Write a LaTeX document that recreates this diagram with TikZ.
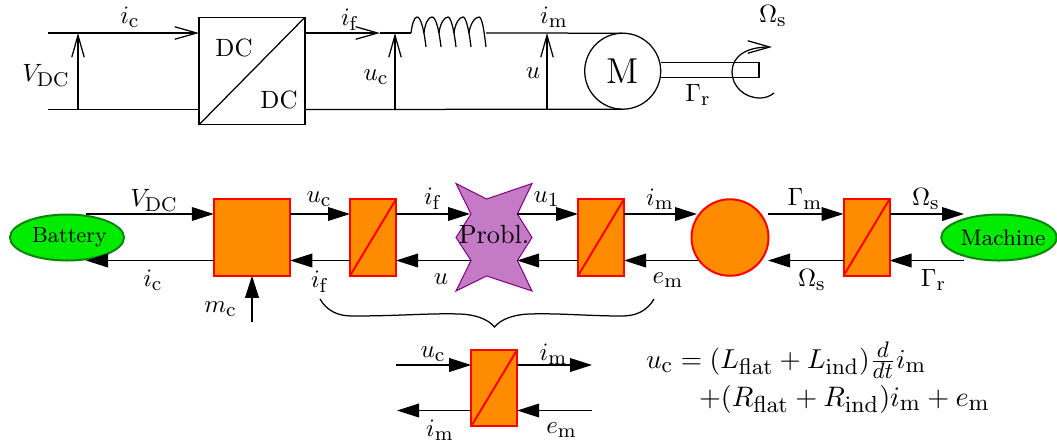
\documentclass[tikz,border=0pt]{standalone}
\usepackage{amsmath}
\usetikzlibrary{arrows.meta,shapes.geometric}
\DeclareMathSizes{10}{10}{8}{6}
\DeclareMathSizes{11}{11}{8.8}{6.6}
\definecolor{blockfill}{RGB}{255,140,0}
\definecolor{starfill}{RGB}{196,122,196}
\definecolor{sourcefill}{RGB}{0,235,0}
\definecolor{sourceline}{RGB}{10,135,10}
\tikzset{
  wire/.style={black, line width=0.5pt},
  openarrow/.style={wire, -{Straight Barb[length=8.8pt,width=5pt]}},
  sigarrow/.style={wire, -{Triangle[length=8.8pt,width=5.5pt]}},
  lbl/.style={inner sep=0pt, outer sep=0pt},
  plainbox/.style={draw, line width=0.5pt, inner sep=0pt, outer sep=0pt, minimum width=42.4pt, minimum height=43pt},
  redblock/.style={draw=red, fill=blockfill, line width=0.8pt, inner sep=0pt, outer sep=0pt},
  convbox/.style={redblock, minimum width=18.4pt, minimum height=30.6pt},
  sourcebox/.style={ellipse, draw=sourceline, fill=sourcefill, line width=0.8pt, inner sep=0pt, outer sep=0pt, minimum height=18.4pt},
}
\begin{document}
\begin{tikzpicture}[x=0.4pt,y=-0.4pt]
\useasboundingbox (0,0) rectangle (1057,441);
% upper circuit
\node[plainbox] (dcbox) at (252,71) {};
\draw[wire] (dcbox.south west) -- (dcbox.north east);
\node[lbl] (dcin) at (234,48) {DC};
\node[lbl] (dcout) at (279,100) {DC};
\node[draw, circle, line width=0.5pt, inner sep=0pt, outer sep=0pt, minimum size=30.4pt, font=\Large] (motor) at (622.7,71.2) {M};
\coordinate (inT) at (48,33);
\coordinate (inB) at (48,109.5);
\coordinate (voltT) at (78,33);
\coordinate (voltB) at (78,109.5);
\coordinate (coilIn) at (380,33);
\coordinate (coilA) at (411,33);
\coordinate (coilZ) at (486,33);
\coordinate (ucT) at (395,33);
\coordinate (ucB) at (395,109.5);
\coordinate (uT) at (547,33);
\coordinate (uB) at (547,109.5);
\draw[openarrow] (inT) -- (dcbox.west |- inT);
\draw[wire] (inB) -- (dcbox.west |- inB);
\draw[openarrow] (voltB) -- (voltT);
\draw[openarrow] (dcbox.east |- coilIn) -- (coilIn);
\draw[wire] (coilIn) -- (coilA);
\draw[wire] (dcbox.east |- inB) -- (motor.south);
\draw[wire] (coilZ) -- (motor.north);
\draw[openarrow] (ucB) -- (ucT);
\draw[openarrow] (uB) -- (uT);
% coil
\draw[wire] (coilA) .. controls (412,25) and (414,17) .. (417,17) .. controls (421,17) and (424,30) .. (426,47);
\draw[wire] (424,33) .. controls (425,24) and (428,17) .. (432,17) .. controls (436,17) and (439,30) .. (441,47);
\draw[wire] (439,33) .. controls (440,24) and (444,17) .. (448,17) .. controls (451,17) and (454,30) .. (456,47);
\draw[wire] (454,33) .. controls (455,24) and (459,17) .. (463,17) .. controls (466,17) and (469,30) .. (471,47);
\draw[wire] (469,33) .. controls (470,24) and (475,17) .. (479,17) .. controls (482,17) and (484,30) .. (486,47);
% shaft and rotation
\draw[wire] (motor.east |- 0,62.7) -- (759,62.7) -- (759,77.7) -- (motor.east |- 0,77.7);
\draw[openarrow] (774,93) .. controls (769,97) and (764,98) .. (760,98) .. controls (744,98) and (732,86) .. (732,72) .. controls (732,57) and (745,47) .. (772,47);
\node[lbl] (lbVdc) at (46,75) {$V_{\mathrm{DC}}$};
\node[lbl] (lbIc) at (130,17) {$i_{\mathrm{c}}$};
\node[lbl] (lbIf) at (350,20) {$i_{\mathrm{f}}$};
\node[lbl] (lbUc) at (376,77) {$u_{\mathrm{c}}$};
\node[lbl] (lbU) at (533,73) {$u$};
\node[lbl] (lbIm) at (554,17) {$i_{\mathrm{m}}$};
\node[lbl] (lbGr) at (698,95) {$\Gamma_{\mathrm{r}}$};
\node[lbl] (lbOs) at (773,16) {$\Omega_{\mathrm{s}}$};
% energetic representation
\coordinate (rowT) at (0,214);
\coordinate (rowB) at (0,260.5);
\node[sourcebox, minimum width=45.6pt] (battery) at (67,237.5) {};
\node[lbl, font=\fontsize{8.7}{10}\selectfont] (batteryText) at (69.5,237.5) {Battery};
\node[redblock, minimum width=30.6pt, minimum height=30.6pt] (chop) at (252,237.5) {};
\node[convbox] (convA) at (373,237.5) {};
\draw[red, line width=0.8pt] (convA.south west) -- (convA.north east);
\fill[starfill] (456,183.5) -- (486.6,199) -- (532,183.5) -- (517.4,214) -- (532,237.5) -- (517.4,260.5) -- (532,291) -- (486.6,276) -- (456,291) -- (471,260.5) -- (456,237.5) -- (471,214) -- cycle;
\draw[draw=violet, line width=0.4pt] (456,183.5) -- (486.6,199) -- (532,183.5) -- (517.4,214) -- (532,237.5) -- (517.4,260.5) -- (532,291) -- (486.6,276) -- (456,291) -- (471,260.5) -- (456,237.5) -- (471,214) -- cycle;
\node[lbl, font=\fontsize{10.5}{12}\selectfont] (probl) at (494,235) {Probl.};
\node[convbox] (convB) at (601,237.5) {};
\draw[red, line width=0.8pt] (convB.south west) -- (convB.north east);
\node[redblock, ellipse, minimum width=30.8pt, minimum height=30.6pt] (mach) at (730,237.5) {};
\node[convbox] (convC) at (866.5,237.5) {};
\draw[red, line width=0.8pt] (convC.south west) -- (convC.north east);
\node[sourcebox, minimum width=46.2pt] (machine) at (999,237.5) {};
\node[lbl, font=\fontsize{9}{10}\selectfont] (machineText) at (1003,237.5) {Machine};
\coordinate (batT) at (86,214);
\coordinate (batB) at (86,260.5);
\coordinate (prbInT) at (470,214);
\coordinate (prbInB) at (471,260.5);
\coordinate (prbOutT) at (517,214);
\coordinate (prbOutB) at (517,260.5);
\coordinate (machInT) at (697,214);
\coordinate (machInB) at (698,260.5);
\coordinate (machOutT) at (768,214);
\coordinate (machOutB) at (768,260.5);
\coordinate (loadT) at (964,214);
\coordinate (loadB) at (964,260.5);
\coordinate (ctrl) at (252,322);
\draw[sigarrow] (batT) -- (chop.west |- batT);
\draw[sigarrow] (chop.west |- batB) -- (batB);
\draw[sigarrow] (chop.east |- rowT) -- (convA.west |- rowT);
\draw[sigarrow] (convA.west |- rowB) -- (chop.east |- rowB);
\draw[sigarrow] (convA.east |- rowT) -- (prbInT);
\draw[sigarrow] (prbInB) -- (convA.east |- rowB);
\draw[sigarrow] (prbOutT) -- (convB.west |- rowT);
\draw[sigarrow] (convB.west |- rowB) -- (prbOutB);
\draw[sigarrow] (convB.east |- rowT) -- (machInT);
\draw[sigarrow] (machInB) -- (convB.east |- rowB);
\draw[sigarrow] (machOutT) -- (convC.west |- rowT);
\draw[sigarrow] (convC.west |- rowB) -- (machOutB);
\draw[sigarrow] (convC.east |- rowT) -- (loadT);
\draw[sigarrow] (loadB) -- (convC.east |- rowB);
\draw[sigarrow] (ctrl) -- (chop.south);
\node[lbl] (lbVdcB) at (154,200) {$V_{\mathrm{DC}}$};
\node[lbl] (lbIcB) at (153,280) {$i_{\mathrm{c}}$};
\node[lbl] (lbUcB) at (319,199) {$u_{\mathrm{c}}$};
\node[lbl] (lbIfT) at (433,199) {$i_{\mathrm{f}}$};
\node[lbl] (lbIfB) at (320,282) {$i_{\mathrm{f}}$};
\node[lbl] (lbUB) at (441,279) {$u$};
\node[lbl] (lbMc) at (220.6,309) {$m_{\mathrm{c}}$};
\node[lbl] (lbUone) at (546.6,199) {$u_1$};
\node[lbl] (lbImB) at (660,199) {$i_{\mathrm{m}}$};
\node[lbl] (lbEm) at (668,280) {$e_{\mathrm{m}}$};
\node[lbl] (lbGm) at (805,199) {$\Gamma_{\mathrm{m}}$};
\node[lbl] (lbOsA) at (812,280) {$\Omega_{\mathrm{s}}$};
\node[lbl] (lbOsB) at (926,199) {$\Omega_{\mathrm{s}}$};
\node[lbl] (lbGrB) at (933.5,280) {$\Gamma_{\mathrm{r}}$};
% brace
\draw[wire] (320,299) .. controls (327,311) and (338,316) .. (352,316) .. controls (400,316) and (430,313) .. (460,314) .. controls (475,314.5) and (488,319) .. (494.5,327) .. controls (501,319) and (514,314.5) .. (529,314) .. controls (559,313) and (589,316) .. (622,316) .. controls (636,316) and (647,311) .. (654,299);
% averaged model
\node[convbox] (convD) at (494.2,388) {};
\draw[red, line width=0.8pt] (convD.south west) -- (convD.north east);
\coordinate (avgLT) at (396,365);
\coordinate (avgLB) at (397,410.5);
\coordinate (avgRT) at (592,365);
\coordinate (avgRB) at (592,410.5);
\draw[sigarrow] (avgLT) -- (convD.west |- avgLT);
\draw[sigarrow] (convD.west |- avgLB) -- (avgLB);
\draw[sigarrow] (convD.east |- avgRT) -- (avgRT);
\draw[sigarrow] (avgRB) -- (convD.east |- avgRB);
\node[lbl] (lbUcC) at (433,354) {$u_{\mathrm{c}}$};
\node[lbl] (lbImC) at (553.5,354) {$i_{\mathrm{m}}$};
\node[lbl] (lbImD) at (440,430) {$i_{\mathrm{m}}$};
\node[lbl] (lbEmC) at (561.6,430) {$e_{\mathrm{m}}$};
\node[lbl, anchor=base west, font=\fontsize{11}{13}\selectfont] (eqA) at (646,368.5) {$u_{\mathrm{c}}=(L_{\mathrm{flat}}+L_{\mathrm{ind}})\frac{d}{dt}i_{\mathrm{m}}$};
\node[lbl, anchor=base west, font=\fontsize{11}{13}\selectfont] (eqB) at (699,406.5) {\scalebox{1.03}{$+(R_{\mathrm{flat}}+R_{\mathrm{ind}})i_{\mathrm{m}}+e_{\mathrm{m}}$}};
\end{tikzpicture}
\end{document}
